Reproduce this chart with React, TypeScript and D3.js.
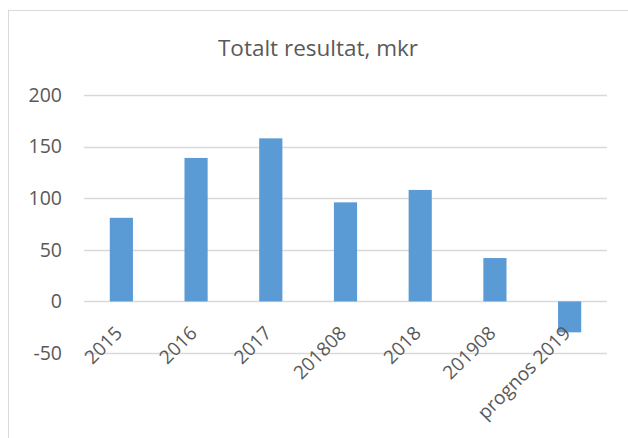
import React, { useEffect, useRef } from 'react';
import * as d3 from 'd3';

// values
const categories = ['2015', '2016', '2017', '201808', '2018', '201908', 'prognos 2019'];
const values = [81, 139, 158, 96, 108, 42, -30];
const yTicks = [-50, 0, 50, 100, 150, 200];
const title = 'Totalt resultat, mkr';

const W = 628;
const H = 438;
const FONT = '"Open Sans", "DejaVu Sans", sans-serif';
const TEXT_COLOR = '#595959';

export default function App() {
  const ref = useRef<SVGSVGElement | null>(null);

  useEffect(() => {
    const svg = d3.select(ref.current);
    svg.selectAll('*').remove();

    const left = 84;
    const right = 607;
    const top = 95;
    const bottom = 353;

    const x = d3.scaleBand<string>()
      .domain(categories)
      .range([left, right])
      .paddingInner(0.69)
      .paddingOuter(0.345);

    const y = d3.scaleLinear().domain([-50, 200]).range([bottom, top]);

    // chart frame
    svg.append('rect')
      .attr('x', 8.5)
      .attr('y', 10.5)
      .attr('width', 640)
      .attr('height', 440)
      .attr('fill', 'white')
      .attr('stroke', '#d9d9d9')
      .attr('stroke-width', 1);

    svg.append('text')
      .attr('x', 318)
      .attr('y', 56)
      .attr('text-anchor', 'middle')
      .attr('font-family', FONT)
      .attr('font-size', 22.5)
      .attr('fill', TEXT_COLOR)
      .text(title);

    // gridlines
    svg.append('g')
      .selectAll('line')
      .data(yTicks)
      .join('line')
      .attr('x1', left)
      .attr('x2', right)
      .attr('y1', d => Math.round(y(d)) + 0.5)
      .attr('y2', d => Math.round(y(d)) + 0.5)
      .attr('stroke', '#d9d9d9')
      .attr('stroke-width', 1.5);

    // y labels
    svg.append('g')
      .selectAll('text')
      .data(yTicks)
      .join('text')
      .attr('x', 62)
      .attr('y', d => y(d))
      .attr('dy', '0.35em')
      .attr('text-anchor', 'end')
      .attr('font-family', FONT)
      .attr('font-size', 19.5)
      .attr('fill', TEXT_COLOR)
      .text(d => d);

    // bars
    svg.append('g')
      .selectAll('rect')
      .data(values)
      .join('rect')
      .attr('x', (d, i) => x(categories[i])!)
      .attr('width', x.bandwidth())
      .attr('y', d => y(Math.max(0, d)))
      .attr('height', d => Math.abs(y(d) - y(0)))
      .attr('fill', '#5b9bd5');

    // rotated category labels
    svg.append('g')
      .selectAll('text')
      .data(categories)
      .join('text')
      .attr('transform', d => `translate(${x(d)! + x.bandwidth() / 2 + 2},${y(0) + 33}) rotate(-45)`)
      .attr('text-anchor', 'end')
      .attr('font-family', FONT)
      .attr('font-size', 19)
      .attr('fill', TEXT_COLOR)
      .text(d => d);
  }, []);

  return (
    <svg
      ref={ref}
      width={W}
      height={H}
      style={{ position: 'absolute', left: 0, top: 0, background: 'white' }}
    />
  );
}
